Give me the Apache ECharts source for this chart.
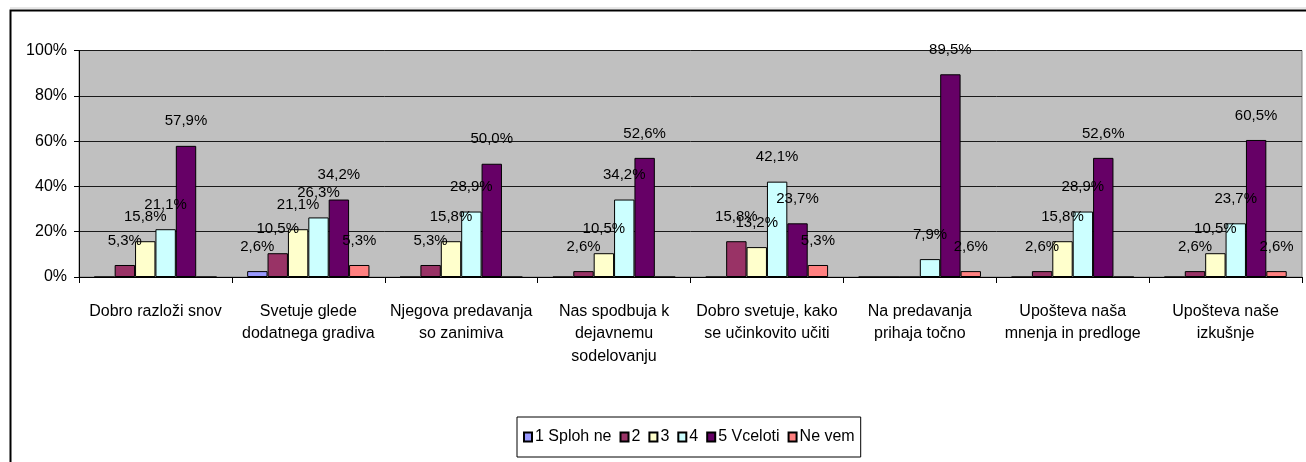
<!DOCTYPE html>
<html>
<head>
<meta charset="utf-8">
<script src="https://cdn.jsdelivr.net/npm/echarts@6/dist/echarts.min.js"></script>
<style>
html,body{margin:0;padding:0;background:#fff;}
#chart{width:1306px;height:462px;}
</style>
</head>
<body>
<div id="chart"></div>
<script>
// kategorije (vprasanja)
var categories = [
	"Dobro razloži snov",
	"Svetuje glede\ndodatnega gradiva",
	"Njegova predavanja\nso zanimiva",
	"Nas spodbuja k\ndejavnemu\nsodelovanju",
	"Dobro svetuje, kako\nse učinkovito učiti",
	"Na predavanja\nprihaja točno",
	"Upošteva naša\nmnenja in predloge",
	"Upošteva naše\nizkušnje"
];
var seriesNames = ["1 Sploh ne", "2", "3", "4", "5 Vceloti", "Ne vem"];
// odstotki po ocenah
var ocena1 = [0, 2.6, 0, 0, 0, 0, 0, 0];
var ocena2 = [5.3, 10.5, 5.3, 2.6, 15.8, 0, 2.6, 2.6];
var ocena3 = [15.8, 21.1, 15.8, 10.5, 13.2, 0, 15.8, 10.5];
var ocena4 = [21.1, 26.3, 28.9, 34.2, 42.1, 7.9, 28.9, 23.7];
var ocena5 = [57.9, 34.2, 50.0, 52.6, 23.7, 89.5, 52.6, 60.5];
var neVem = [0, 5.3, 0, 0, 5.3, 2.6, 0, 2.6];
var yTicks = [0, 20, 40, 60, 80, 100];

var colors = ["#9999FF", "#993366", "#FFFFCC", "#CCFFFF", "#660066", "#FF8080"];
var values = [ocena1, ocena2, ocena3, ocena4, ocena5, neVem];
var font = "'Liberation Sans', Arial, sans-serif";

var series = [];
for (var i = 0; i < values.length; i++) {
	series.push({
		name: seriesNames[i],
		type: "bar",
		data: values[i],
		barGap: "0%",
		barCategoryGap: "20%",
		itemStyle: {color: colors[i], borderColor: "#000", borderWidth: 1},
		label: {
			show: true,
			position: "top",
			distance: 17,
			color: "#000",
			fontFamily: font,
			fontSize: 15,
			formatter: function (p) {
				if (!p.value) return "";
				return p.value.toFixed(1).replace(".", ",") + "%";
			}
		}
	});
}

var chart = echarts.init(document.getElementById("chart"));
chart.setOption({
	animation: false,
	color: colors,
	textStyle: {fontFamily: font},
	grid: {
		left: 79, right: 4, top: 50.5, bottom: 185,
		show: true, backgroundColor: "#C0C0C0", borderColor: "#808080", borderWidth: 1
	},
	legend: {
		left: 517, top: 417,
		padding: [12, 6],
		borderColor: "#000", borderWidth: 1,
		itemWidth: 8, itemHeight: 9, itemGap: 8,
		icon: "rect",
		textStyle: {fontSize: 16, color: "#000", fontFamily: font, padding: [0, 0, 0, -2]},
		data: seriesNames
	},
	xAxis: {
		type: "category",
		data: categories,
		axisLine: {lineStyle: {color: "#000", width: 1}},
		axisTick: {show: true, length: 6, lineStyle: {color: "#000"}},
		axisLabel: {color: "#000", fontSize: 16, lineHeight: 22.5, margin: 23, interval: 0, fontFamily: font}
	},
	yAxis: {
		type: "value",
		min: yTicks[0], max: yTicks[yTicks.length - 1], interval: 20,
		axisLine: {show: true, lineStyle: {color: "#000", width: 1}},
		axisTick: {show: true, length: 5, lineStyle: {color: "#000"}},
		axisLabel: {color: "#000", fontSize: 16, margin: 12, formatter: "{value}%", fontFamily: font},
		splitLine: {show: true, lineStyle: {color: "#1a1a1a", width: 1}}
	},
	graphic: [
		{type: "line", shape: {x1: 10, y1: 8, x2: 1306, y2: 8}, style: {stroke: "#d0d0d0", lineWidth: 1}},
		{type: "rect", shape: {x: 10.5, y: 10.5, width: 1310, height: 470}, style: {fill: null, stroke: "#000", lineWidth: 2}}
	],
	series: series
});
</script>
</body>
</html>
